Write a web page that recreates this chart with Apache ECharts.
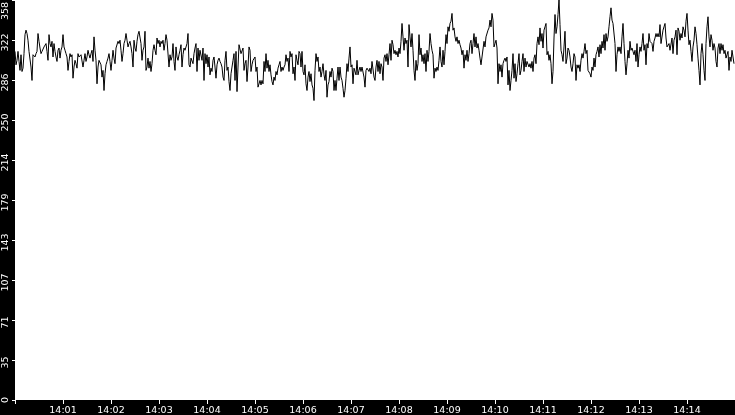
<!DOCTYPE html>
<html><head><meta charset="utf-8">
<script src="https://cdn.jsdelivr.net/npm/echarts@6/dist/echarts.min.js"></script>
<style>html,body{margin:0;padding:0;background:#000}#c{width:735px;height:415px}</style>
</head><body><div id="c"></div>
<script>
const startTime = '2024-01-01 14:00:00';
const endTime = '2024-01-01 14:15:00';
const stepMs = 1250;
const yTickLabels = ['0','35','71','107','143','179','214','250','286','322','358'];
// 14:00:00 - 14:02:30
const part1 = [312,300,304,312,303,295,309,294,297,310,327,331,328,322,312,313,298,286,309,310,307,310,312,328,321,315,310,312,313,316,315,319,312,304,327,319,316,321,307,319,312,307,303,313,315,306,313,316,327,316,313,310,307,295,303,310,307,309,288,298,304,301,297,310,307,306,309,310,298,304,310,303,307,313,309,306,310,313,303,325,313,304,283,298,304,303,300,289,295,277,292,300,303,306,310,303,295,304,313,306,301,315,316,321,319,322,313,303,310,319,322,328,322,316,319,321,316,310,298,322];
// 14:02:30 - 14:05:00
const part2 = [315,312,321,327,330,331,319,304,313,316,330,295,298,306,297,303,294,301,313,318,313,309,324,319,322,316,321,319,322,313,319,327,322,321,298,309,304,307,319,303,295,316,307,304,309,313,318,298,309,315,313,312,319,328,300,298,306,307,301,310,315,319,294,315,304,313,313,304,315,286,310,301,309,298,307,291,297,294,304,307,298,288,300,304,306,303,301,298,289,286,304,312,295,298,285,277,292,298,304,310,286,312,276,298,318,319,310,309,315,295,301,304,285,298,316,313,294,300,304,304];
// 14:05:00 - 14:07:30
const part3 = [307,294,298,280,279,286,282,286,283,303,294,310,297,304,294,300,291,285,282,289,286,294,291,297,300,303,294,298,295,298,300,309,303,306,294,312,307,310,292,298,286,309,304,300,312,310,298,312,294,291,300,283,277,289,294,285,292,282,279,268,295,310,303,307,294,298,289,294,301,291,286,295,271,282,285,294,289,297,294,277,286,277,288,298,286,298,289,286,279,271,277,288,301,294,306,316,298,300,283,297,298,291,304,291,295,298,294,298,297,289,280,295,297,298,294,297,292,303,304,289];
// 14:07:30 - 14:10:00
const part4 = [286,298,304,294,303,292,301,298,286,306,309,303,310,300,309,319,304,322,318,310,313,309,312,307,315,310,321,337,325,313,324,319,322,298,336,325,316,328,313,295,286,304,295,301,327,309,315,303,309,301,310,294,313,303,312,328,319,313,309,288,297,294,298,295,304,316,303,298,313,300,312,327,319,334,330,337,339,346,331,333,325,321,325,319,322,318,315,309,313,297,309,304,313,303,310,319,322,310,319,328,316,325,315,319,313,306,300,307,306,321,316,325,324,331,333,340,334,346,340,316];
// 14:10:00 - 14:12:30
const part5 = [319,322,315,283,301,294,300,289,301,304,306,303,307,282,295,277,286,295,310,288,301,285,292,301,310,291,295,303,310,294,306,298,303,303,298,301,297,303,294,306,309,301,319,325,318,333,321,328,315,331,334,337,309,312,304,309,301,283,294,324,345,328,334,345,358,336,313,309,303,316,330,301,306,315,313,307,298,294,301,310,307,286,300,297,300,294,304,310,306,312,319,310,313,295,294,292,289,298,295,306,298,309,312,316,307,318,310,321,315,327,313,328,321,325,334,343,351,340,337,336];
// 14:12:30 - 14:15:00
const part6 = [319,294,309,316,312,316,310,325,337,319,303,291,301,313,306,321,313,315,312,309,313,303,319,298,309,316,312,319,328,313,318,300,319,315,328,321,322,319,312,321,324,328,325,328,325,336,319,319,331,334,337,324,316,315,319,313,312,324,310,322,325,331,309,333,330,322,328,324,334,331,325,339,346,331,318,322,312,303,316,322,334,328,318,306,295,282,310,319,309,295,286,319,334,343,325,316,327,322,313,319,315,303,298,315,319,310,319,313,318,310,313,306,309,312,295,307,303,313,313,301];

const values = [].concat(part1, part2, part3, part4, part5, part6);
const t0 = echarts.time.parse(startTime).getTime();
const tEnd = echarts.time.parse(endTime).getTime();
const data = values.map((v, i) => [t0 + i * stepMs, v]);

const chart = echarts.init(document.getElementById('c'), null, {renderer: 'canvas'});
const font = 'DejaVu Sans';
const lblStyle = {color: '#fff', fontFamily: font, fontSize: 9.5};
chart.setOption({
  backgroundColor: '#000',
  animation: false,
  grid: {left: 15, right: 0, top: 0, bottom: 15, show: true, backgroundColor: '#fff', borderWidth: 0,
         containLabel: false, outerBoundsMode: 'none'},
  xAxis: {
    type: 'time',
    min: t0,
    max: tEnd,
    minInterval: 60000,
    maxInterval: 60000,
    axisLine: {show: false},
    axisTick: {show: true, length: 4, lineStyle: {color: '#fff', width: 1}},
    splitLine: {show: false},
    axisLabel: {
      color: '#fff', fontFamily: font, fontSize: 9.5, margin: 6, hideOverlap: false,
      formatter: (v) => (v <= t0 || v >= tEnd) ? '' : echarts.time.format(v, '{HH}:{mm}', false)
    }
  },
  yAxis: {
    type: 'value',
    min: 0,
    max: 358,
    interval: 35.8,
    axisLine: {show: false},
    axisTick: {show: true, length: 3, lineStyle: {color: '#fff', width: 1}},
    splitLine: {show: false},
    axisLabel: {
      color: '#fff', fontFamily: font, fontSize: 9.5, margin: 4, rotate: 90, hideOverlap: false,
      formatter: (v, i) => {
        const key = i === yTickLabels.length - 1 ? 'top' : (i === 0 ? 'z' : 'n');
        return '{' + key + '|' + yTickLabels[i] + '}';
      },
      rich: {
        z: Object.assign({padding: [0, 0, 0, 0]}, lblStyle),
        n: Object.assign({padding: [0, 5, 0, 0]}, lblStyle),
        top: Object.assign({padding: [0, 22, 0, 0]}, lblStyle)
      }
    }
  },
  series: [{
    type: 'line',
    data: data,
    showSymbol: false,
    symbol: 'none',
    sampling: null,
    lineStyle: {color: '#000', width: 1},
    emphasis: {disabled: true}
  }]
});
</script>
</body></html>
